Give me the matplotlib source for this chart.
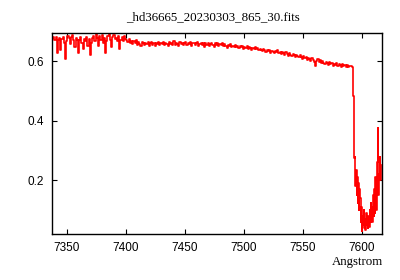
import matplotlib
matplotlib.use("Agg")
import matplotlib.pyplot as plt
import numpy as np

title = "_hd36665_20230303_865_30.fits"
xlabel = "Angstrom"
xticks = [7350, 7400, 7450, 7500, 7550, 7600]
yticks = [0.2, 0.4, 0.6]

# continuum part, 1 A step starting at 7337
cont_start = 7337
cont_step = 1
cont_flux = [
    0.684, 0.676, 0.680, 0.671, 0.682, 0.626, 0.670, 0.679, 0.638, 0.674,
    0.681, 0.662, 0.607, 0.668, 0.683, 0.676, 0.656, 0.680, 0.687, 0.672,
    0.648, 0.677, 0.669, 0.626, 0.672, 0.681, 0.660, 0.640, 0.675, 0.668,
    0.682, 0.652, 0.674, 0.621, 0.662, 0.679, 0.684, 0.668, 0.690, 0.676,
    0.650, 0.684, 0.672, 0.686, 0.662, 0.678, 0.628, 0.668, 0.684, 0.690,
    0.670, 0.648, 0.680, 0.686, 0.674, 0.679, 0.667, 0.683, 0.641, 0.672,
    0.681, 0.668, 0.683, 0.674, 0.670, 0.664, 0.673, 0.661, 0.668, 0.657,
    0.666, 0.660, 0.670, 0.655, 0.663, 0.658, 0.652, 0.664, 0.660, 0.654,
    0.661, 0.657, 0.665, 0.651, 0.659, 0.663, 0.655, 0.660, 0.652, 0.662,
    0.657, 0.664, 0.653, 0.660, 0.656, 0.665, 0.654, 0.661, 0.658, 0.651,
    0.663, 0.657, 0.660, 0.653, 0.666, 0.655, 0.661, 0.657, 0.652, 0.664,
    0.658, 0.662, 0.655, 0.660, 0.664, 0.653, 0.661, 0.657, 0.663, 0.650,
    0.659, 0.662, 0.654, 0.660, 0.665, 0.652, 0.658, 0.662, 0.655, 0.661,
    0.648, 0.660, 0.655, 0.662, 0.651, 0.657, 0.660, 0.654, 0.646, 0.659,
    0.655, 0.660, 0.651, 0.657, 0.653, 0.659, 0.649, 0.656, 0.652, 0.645,
    0.654, 0.650, 0.656, 0.646, 0.652, 0.648, 0.655, 0.647, 0.651, 0.644,
    0.650, 0.646, 0.652, 0.641, 0.648, 0.644, 0.649, 0.640, 0.646, 0.643,
    0.637, 0.645, 0.641, 0.647, 0.639, 0.644, 0.636, 0.642, 0.638, 0.634,
    0.641, 0.636, 0.630, 0.638, 0.633, 0.637, 0.628, 0.635, 0.631, 0.626,
    0.633, 0.629, 0.636, 0.627, 0.631, 0.624, 0.630, 0.626, 0.621, 0.629,
    0.625, 0.618, 0.627, 0.622, 0.617, 0.625, 0.620, 0.614, 0.622, 0.616,
    0.612, 0.619, 0.613, 0.608, 0.616, 0.610, 0.614, 0.605, 0.611, 0.607,
    0.600, 0.609, 0.603, 0.596, 0.582, 0.601, 0.606, 0.597, 0.603, 0.594,
    0.600, 0.595, 0.590, 0.598, 0.592, 0.586, 0.596, 0.590, 0.594, 0.585,
    0.591, 0.587, 0.593, 0.583, 0.589, 0.586, 0.580, 0.590, 0.584, 0.588,
    0.581, 0.587, 0.579, 0.585, 0.582, 0.584,
]

# telluric band part, 0.5 A step starting at 7592.5
band_start = 7592.5
band_step = 0.5
band_flux = [
    0.580, 0.484, 0.484, 0.275, 0.280, 0.180, 0.235, 0.150, 0.210, 0.125,
    0.190, 0.100, 0.170, 0.140, 0.060, 0.110, 0.030, 0.080, 0.050, 0.100,
    0.040, 0.070, 0.035, 0.090, 0.050, 0.065, 0.040, 0.080, 0.045, 0.100,
    0.060, 0.125, 0.070, 0.110, 0.060, 0.150, 0.080, 0.170, 0.090, 0.210,
    0.100, 0.230, 0.260, 0.375, 0.150, 0.220, 0.280, 0.200, 0.250,
]

wl = np.concatenate([
    cont_start + cont_step * np.arange(len(cont_flux)),
    band_start + band_step * np.arange(len(band_flux)),
])
flux = np.concatenate([cont_flux, band_flux])

fig = plt.figure(figsize=(4.0, 2.8), dpi=100)
ax = fig.add_axes([0.13, 0.164, 0.824, 0.718])
ax.plot(wl, flux, color="#ff0000", lw=1.2, drawstyle="steps-mid")
ax.set_xlim(7337.5, 7617)
ax.set_ylim(0.02, 0.694)
ax.set_xticks(xticks)
ax.set_yticks(yticks)
ax.set_yticklabels(["0.2", "0.4", "0.6"])
ax.tick_params(direction="in", top=True, right=True, length=3.5, width=0.8,
               labelsize=8.5, pad=6)
for lab in ax.get_xticklabels() + ax.get_yticklabels():
    lab.set_family("Liberation Sans")
for s in ax.spines.values():
    s.set_linewidth(1.0)
fig.text(0.5325, 0.94, title, ha="center", va="center",
         family="Liberation Serif", fontsize=9.3)
fig.text(0.957, 0.064, xlabel, ha="right", va="center",
         family="Liberation Serif", fontsize=9.3)
fig.savefig("out.png", dpi=100)
